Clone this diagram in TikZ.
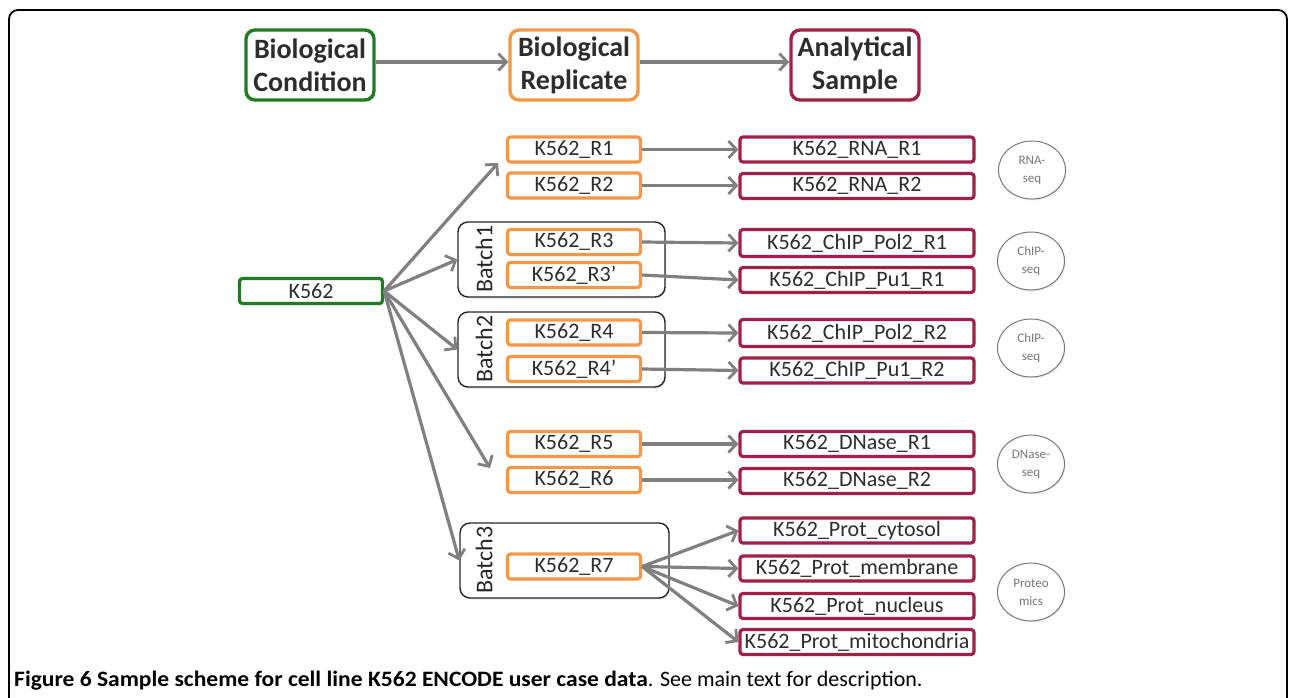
\documentclass[tikz,border=0pt]{standalone}
\usepackage{fontspec}
\setmainfont{Carlito}
\newfontfamily\capfont[FakeStretch=1.07]{Carlito}
\usetikzlibrary{arrows.meta,shapes.geometric,shadows}

\definecolor{condgreen}{RGB}{30,125,35}
\definecolor{reporange}{RGB}{244,152,72}
\definecolor{samplered}{RGB}{160,32,72}
\definecolor{linkgray}{RGB}{128,128,128}
\definecolor{assaygray}{RGB}{120,120,120}
\definecolor{textdark}{RGB}{45,45,45}

\tikzset{
  headbox/.style={draw, line width=3.4pt, rounded corners=9pt, minimum width=128pt,
    minimum height=70pt, align=center, font=\fontsize{28}{33}\selectfont\bfseries,
    text=textdark, fill=white, drop shadow={opacity=0.18,shadow xshift=1pt,shadow yshift=-1.5pt}},
  itembox/.style={draw, line width=3.2pt, rounded corners=3pt, minimum height=25pt,
    inner sep=0pt, font=\fontsize{22}{24}\selectfont, text=textdark, fill=white,
    drop shadow={opacity=0.18,shadow xshift=1pt,shadow yshift=-1.5pt}},
  repbox/.style={itembox, draw=reporange, minimum width=133pt},
  samplebox/.style={itembox, draw=samplered, minimum width=234pt},
  condbox/.style={itembox, draw=condgreen, minimum width=143pt},
  batchbox/.style={draw=black!85, line width=1.4pt, rounded corners=10pt,
    drop shadow={opacity=0.2,shadow xshift=1pt,shadow yshift=-1.5pt}, fill=white},
  batchlabel/.style={rotate=90, font=\fontsize{24}{26}\selectfont, text=black!85},
  assay/.style={draw=assaygray, line width=1pt, ellipse, minimum width=67pt,
    minimum height=58pt, inner sep=0pt, align=center, text=assaygray,
    font=\fontsize{13}{18}\selectfont, fill=white,
    drop shadow={opacity=0.15,shadow xshift=1pt,shadow yshift=-1.5pt}},
  link/.style={draw=linkgray, line width=3.2pt,
    -{Straight Barb[length=8pt,width=17pt,line width=2.8pt]}},
}

\begin{document}
\begin{tikzpicture}[x=1pt,y=-1pt]
\useasboundingbox (0,0) rectangle (1295,697);

% outer frame, open at the bottom
\draw[line width=1.8pt, rounded corners=9pt] (9,705) -- (9,10) -- (1287,10) -- (1287,705);

% legend row
\node[headbox, draw=condgreen] (hcond) at (310,65) {Biological\\Condition};
\node[headbox, draw=reporange] (hrep) at (574,65) {Biological\\Replicate};
\node[headbox, draw=samplered] (hsample) at (855,65) {Analytical\\Sample};
\draw[link] (hcond.east |- 0,62) -- (hrep.west |- 0,62);
\draw[link] (hrep.east |- 0,62) -- (hsample.west |- 0,62);

% batch frames
\node[batchbox, minimum width=207pt, minimum height=75pt] (b1) at (561.5,259.5) {};
\node[batchbox, minimum width=207pt, minimum height=75pt] (b2) at (561.5,349.5) {};
\node[batchbox, minimum width=209pt, minimum height=75pt] (b3) at (564.5,560.5) {};
\node[batchlabel] (b1lab) at (484,259) {Batch1};
\node[batchlabel] (b2lab) at (484,349) {Batch2};
\node[batchlabel] (b3lab) at (484,560) {Batch3};

% biological condition
\node[condbox] (k562) at (311,291) {K562};

% biological replicates
\node[repbox] (r1) at (574,149.5) {K562\_R1};
\node[repbox] (r2) at (574,185.5) {K562\_R2};
\node[repbox] (r3) at (574,242) {K562\_R3};
\node[repbox] (r3p) at (574,275) {K562\_R3’};
\node[repbox] (r4) at (574,332.5) {K562\_R4};
\node[repbox] (r4p) at (574,369) {K562\_R4’};
\node[repbox] (r5) at (574,444) {K562\_R5};
\node[repbox] (r6) at (574,480) {K562\_R6};
\node[repbox] (r7) at (574,566.5) {K562\_R7};

% analytical samples
\node[samplebox] (s1) at (857,149.5) {K562\_RNA\_R1};
\node[samplebox] (s2) at (857,186) {K562\_RNA\_R2};
\node[samplebox, minimum height=27pt] (s3) at (857,243) {K562\_ChIP\_Pol2\_R1};
\node[samplebox] (s4) at (857,280) {K562\_ChIP\_Pu1\_R1};
\node[samplebox, minimum height=27pt] (s5) at (857,333) {K562\_ChIP\_Pol2\_R2};
\node[samplebox] (s6) at (857,370.5) {K562\_ChIP\_Pu1\_R2};
\node[samplebox] (s7) at (857,444) {K562\_DNase\_R1};
\node[samplebox] (s8) at (857,481) {K562\_DNase\_R2};
\node[samplebox] (s9) at (857,530.5) {K562\_Prot\_cytosol};
\node[samplebox] (s10) at (857,568.5) {K562\_Prot\_membrane};
\node[samplebox] (s11) at (857,606) {K562\_Prot\_nucleus};
\node[samplebox] (s12) at (857,642) {K562\_Prot\_mitochondria};

% assay types
\node[assay] (rnaseq) at (1032,170) {RNA-\\seq};
\node[assay] (chip1) at (1031,261) {ChIP-\\seq};
\node[assay] (chip2) at (1031,348) {ChIP-\\seq};
\node[assay] (dnase) at (1031,464) {DNase-\\seq};
\node[assay] (prot) at (1031,592) {Proteo\\mics};

% fan-out from the cell line
\coordinate (toR12) at (498,163);
\coordinate (toR56) at (490,468);
\draw[link] (k562.east) -- (toR12);
\draw[link] (k562.east) -- (b1.west);
\draw[link] (k562.east) -- (b2.west);
\draw[link] (k562.east) -- (toR56);
\draw[link] (k562.east) -- (b3.west);

% replicate to sample
\foreach \r/\s in {r1/s1, r2/s2, r5/s7, r6/s8}
  \draw[link] (\r.east) -- (\s.west |- \r.east);
\draw[link] (r3.east) -- (s3.west);
\draw[link] (r3p.east) -- (s4.west);
\draw[link] (r4.east) -- (s5.west);
\draw[link] (r4p.east) -- (s6.west);
\foreach \s in {s9, s10, s11, s12}
  \draw[link] (r7.east) -- (\s.west);

% caption
\node[anchor=base west, inner sep=0pt, font=\fontsize{22}{24}\selectfont] (caption) at (14,686)
  {{\capfont\bfseries Figure 6 Sample scheme for cell line K562 ENCODE user case data}. See main text for description.};
\end{tikzpicture}
\end{document}
